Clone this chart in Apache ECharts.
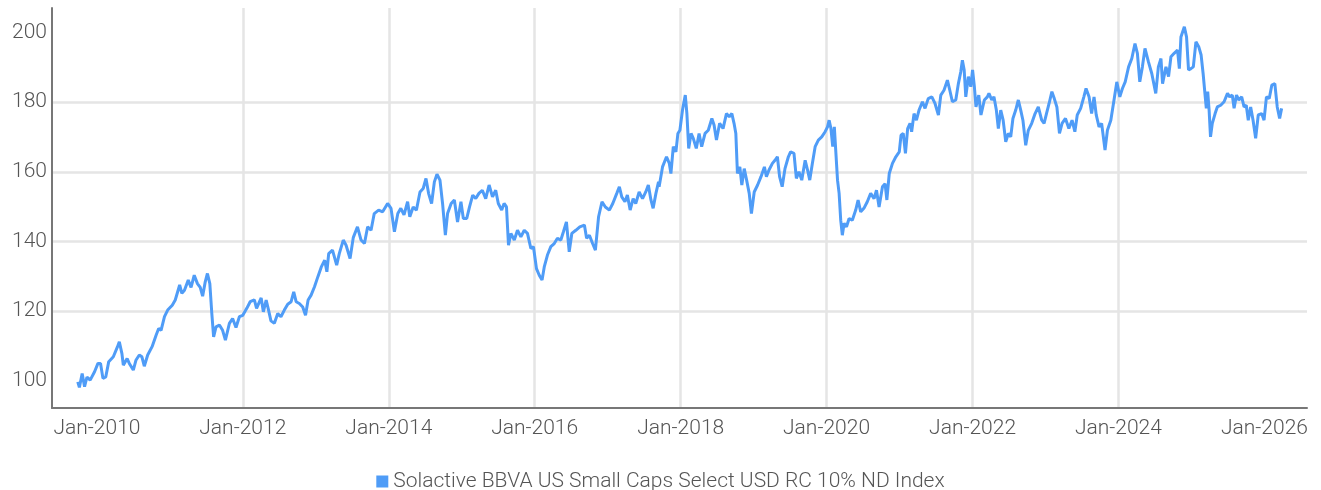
<!DOCTYPE html>
<html>
<head>
<meta charset="utf-8">
<script src="https://cdn.jsdelivr.net/npm/echarts@6/dist/echarts.min.js"></script>
<style>
  html, body { margin: 0; padding: 0; background: #fff; }
  #chart { width: 1321px; height: 490px; }
</style>
</head>
<body>
<div id="chart"></div>
<script>
const seriesName = 'Solactive BBVA US Small Caps Select USD RC 10% ND Index';

const dates = [
  '2009-09-27','2009-10-05','2009-10-19','2009-10-31','2009-11-12','2009-11-28','2009-12-20',
  '2010-01-06','2010-01-19','2010-01-31','2010-02-14','2010-03-01','2010-03-24','2010-04-14','2010-04-23',
  '2010-05-06','2010-05-13','2010-06-01','2010-06-12','2010-07-02','2010-07-15','2010-08-01','2010-08-14',
  '2010-08-26','2010-09-12','2010-10-04','2010-10-24','2010-11-06','2010-11-18','2010-12-05','2010-12-21',
  '2011-01-13','2011-01-28','2011-02-05','2011-02-19','2011-03-02','2011-03-15','2011-04-03','2011-04-17',
  '2011-05-03','2011-05-19','2011-06-02','2011-06-14','2011-06-27','2011-07-08','2011-07-20','2011-07-30',
  '2011-08-08','2011-08-20','2011-09-06','2011-09-22','2011-10-06','2011-10-26','2011-11-11','2011-11-28',
  '2011-12-15','2012-01-01','2012-01-21','2012-02-07','2012-02-28','2012-03-10','2012-04-02','2012-04-13',
  '2012-04-27','2012-05-09','2012-05-21','2012-06-07','2012-06-24','2012-07-10','2012-07-27','2012-08-13',
  '2012-08-30','2012-09-12','2012-09-24','2012-10-10','2012-10-27','2012-11-10','2012-11-23','2012-12-08',
  '2012-12-25','2013-01-11','2013-01-28','2013-02-14','2013-02-25','2013-03-06','2013-03-25','2013-04-15',
  '2013-04-28','2013-05-18','2013-06-01','2013-06-21','2013-07-07','2013-07-28','2013-08-15','2013-09-01',
  '2013-09-17','2013-10-04','2013-10-20','2013-11-11','2013-12-01','2013-12-26','2014-01-12','2014-01-29',
  '2014-02-15','2014-03-02','2014-03-18','2014-04-05','2014-04-16','2014-05-03','2014-05-19','2014-06-06',
  '2014-06-22','2014-07-06','2014-07-19','2014-08-03','2014-08-17','2014-08-30','2014-09-14','2014-09-27',
  '2014-10-11','2014-10-22','2014-11-09','2014-11-25','2014-12-11','2014-12-28','2015-01-09','2015-01-26',
  '2015-02-09','2015-02-25','2015-03-12','2015-03-28','2015-04-14','2015-05-01','2015-05-18','2015-06-04',
  '2015-06-20','2015-07-03','2015-07-20','2015-08-01','2015-08-13','2015-08-23','2015-09-04','2015-09-21',
  '2015-10-07','2015-10-24','2015-11-10','2015-11-26','2015-12-13','2015-12-26','2016-01-10','2016-01-24',
  '2016-02-07','2016-02-18','2016-03-05','2016-03-22','2016-04-08','2016-04-24','2016-05-11','2016-05-24',
  '2016-06-08','2016-06-22','2016-07-05','2016-07-25','2016-08-14','2016-09-06','2016-09-17','2016-10-01',
  '2016-10-17','2016-10-31','2016-11-16','2016-12-03','2016-12-20','2017-01-09','2017-01-26','2017-02-15',
  '2017-02-28','2017-03-12','2017-03-28','2017-04-09','2017-04-23','2017-05-08','2017-05-21','2017-06-07',
  '2017-06-24','2017-07-10','2017-07-23','2017-08-05','2017-08-16','2017-08-30','2017-09-12','2017-09-15',
  '2017-10-02','2017-10-22','2017-11-05','2017-11-13','2017-11-25','2017-12-08','2017-12-18','2017-12-28',
  '2018-01-10','2018-01-24','2018-02-01','2018-02-10','2018-02-22','2018-03-05','2018-03-20','2018-04-03',
  '2018-04-16','2018-05-03','2018-05-19','2018-06-06','2018-06-17','2018-06-29','2018-07-15','2018-08-01',
  '2018-08-18','2018-09-01','2018-09-14','2018-09-25','2018-10-04','2018-10-12','2018-10-24','2018-11-03',
  '2018-11-15','2018-11-27','2018-12-10','2018-12-21','2019-01-04','2019-01-21','2019-02-07','2019-02-24',
  '2019-03-06','2019-03-19','2019-04-05','2019-04-18','2019-04-30','2019-05-11','2019-05-24','2019-06-07',
  '2019-06-24','2019-07-05','2019-07-22','2019-08-03','2019-08-16','2019-08-30','2019-09-16','2019-09-28',
  '2019-10-09','2019-10-22','2019-11-05','2019-11-21','2019-12-08','2019-12-25','2020-01-06','2020-01-14',
  '2020-01-23','2020-02-01','2020-02-09','2020-02-17','2020-02-25','2020-03-04','2020-03-12','2020-03-20',
  '2020-03-29','2020-04-10','2020-04-23','2020-05-09','2020-05-26','2020-06-07','2020-06-20','2020-07-06',
  '2020-07-23','2020-08-09','2020-08-26','2020-09-07','2020-09-20','2020-10-07','2020-10-20','2020-10-29',
  '2020-11-10','2020-11-26','2020-12-13','2020-12-30','2021-01-08','2021-01-19','2021-01-30','2021-02-10',
  '2021-02-22','2021-03-02','2021-03-14','2021-03-26','2021-04-08','2021-04-25','2021-05-08','2021-05-24',
  '2021-06-11','2021-06-27','2021-07-14','2021-07-26','2021-08-11','2021-08-28','2021-09-09','2021-09-22',
  '2021-10-09','2021-10-22','2021-11-03','2021-11-11','2021-11-20','2021-11-28','2021-12-11','2021-12-23',
  '2022-01-01','2022-01-10','2022-01-18','2022-02-01','2022-02-12','2022-03-01','2022-03-16','2022-03-24',
  '2022-04-07','2022-04-18','2022-04-30','2022-05-10','2022-05-22','2022-06-03','2022-06-16','2022-06-29',
  '2022-07-11','2022-07-22','2022-08-05','2022-08-18','2022-08-30','2022-09-10','2022-09-24','2022-10-07',
  '2022-10-24','2022-11-10','2022-11-26','2022-12-13','2022-12-25','2023-01-06','2023-01-19','2023-02-02',
  '2023-02-14','2023-02-27','2023-03-12','2023-03-25','2023-04-11','2023-04-28','2023-05-14','2023-05-28',
  '2023-06-09','2023-06-26','2023-07-12','2023-07-23','2023-08-07','2023-08-20','2023-09-01','2023-09-12',
  '2023-09-26','2023-10-09','2023-10-26','2023-11-07','2023-11-24','2023-12-10','2023-12-24','2024-01-08',
  '2024-01-21','2024-02-04','2024-02-21','2024-03-08','2024-03-24','2024-04-05','2024-04-17','2024-04-30',
  '2024-05-13','2024-05-30','2024-06-16','2024-07-06','2024-07-19','2024-08-01','2024-08-09','2024-08-26',
  '2024-09-08','2024-09-20','2024-10-06','2024-10-23','2024-11-01','2024-11-09','2024-11-26','2024-12-07',
  '2024-12-17','2024-12-29','2025-01-10','2025-01-23','2025-02-06','2025-02-18','2025-02-28','2025-03-09',
  '2025-03-16','2025-03-23','2025-03-30','2025-04-06','2025-04-15','2025-04-29','2025-05-10','2025-05-27',
  '2025-06-13','2025-06-30','2025-07-11','2025-07-24','2025-08-02','2025-08-14','2025-08-26','2025-09-09',
  '2025-09-21','2025-10-02','2025-10-12','2025-10-24','2025-11-05','2025-11-18','2025-12-01','2025-12-18',
  '2025-12-30','2026-01-11','2026-01-25','2026-02-07','2026-02-22','2026-03-06','2026-03-18','2026-03-28'
];

const values = [
  99.7, 98.1, 102.1, 98.3, 101.1, 100.2, 102.6,
  105.0, 105.0, 100.7, 101.1, 105.5, 106.9, 109.8, 111.2,
  107.8, 104.5, 106.4, 105.0, 103.1, 105.9, 107.4, 106.9,
  104.2, 107.4, 109.8, 113.1, 115.0, 114.5, 118.4, 120.3,
  121.7, 123.2, 123.6, 127.5, 125.1, 126.0, 128.9, 126.8,
  130.3, 127.9, 126.8, 124.3, 128.4, 130.8, 127.9, 119.3,
  112.6, 115.5, 116.0, 114.5, 111.7, 116.5, 117.9, 115.3,
  118.4, 118.8, 120.8, 122.7, 123.2, 120.8, 123.8, 119.8,
  123.2, 120.3, 117.2, 116.5, 119.3, 118.4, 120.3, 122.0,
  122.7, 125.5, 122.7, 122.2, 121.2, 118.8, 123.2, 124.6,
  127.0, 129.9, 132.7, 134.6, 131.3, 136.5, 137.5, 133.2,
  136.5, 140.4, 138.9, 135.1, 141.1, 144.2, 140.4, 139.4,
  144.2, 143.2, 148.0, 149.0, 148.5, 150.9, 149.5, 142.8,
  148.0, 149.5, 147.6, 151.4, 147.1, 149.9, 149.0, 154.2,
  155.2, 158.1, 153.8, 150.9, 157.1, 159.3, 157.6, 150.9,
  141.8, 148.0, 150.9, 151.9, 145.6, 151.4, 146.6, 146.6,
  149.9, 153.3, 152.3, 153.8, 154.7, 152.3, 156.2, 152.8,
  154.7, 150.9, 149.0, 150.9, 149.9, 138.9, 142.3, 140.4,
  143.2, 141.3, 143.2, 142.3, 138.0, 138.5, 132.2, 130.3,
  128.9, 132.7, 136.1, 138.5, 139.4, 140.9, 140.4, 142.8,
  145.6, 137.0, 142.3, 143.2, 144.2, 144.7, 140.9, 141.8,
  139.4, 137.5, 147.1, 151.4, 149.9, 149.0, 150.9, 153.8,
  155.7, 152.8, 151.4, 153.3, 149.0, 152.3, 150.9, 154.2,
  152.3, 154.2, 156.2, 151.9, 149.5, 153.8, 157.1, 155.7,
  161.4, 164.3, 162.4, 159.5, 167.2, 165.7, 171.0, 171.9,
  177.7, 182.0, 176.7, 166.7, 171.0, 169.6, 166.7, 171.0,
  167.2, 171.0, 171.9, 175.3, 173.4, 169.1, 173.9, 172.4,
  176.7, 175.8, 176.7, 173.9, 171.0, 159.5, 161.4, 156.2,
  160.9, 157.6, 153.8, 148.0, 154.2, 156.2, 158.6, 161.4,
  158.6, 160.5, 162.4, 163.3, 164.3, 158.6, 155.7, 160.9,
  164.3, 165.7, 165.3, 158.1, 160.0, 157.6, 163.3, 160.5,
  157.6, 162.4, 167.2, 169.1, 170.0, 171.5, 172.9, 174.8,
  172.4, 167.2, 172.9, 172.4, 157.6, 153.8, 146.1, 141.8,
  145.2, 144.2, 146.6, 146.1, 149.0, 151.9, 148.5, 149.5,
  151.4, 153.8, 152.3, 154.7, 149.9, 155.7, 156.6, 151.9,
  159.5, 162.4, 164.3, 165.7, 170.5, 171.0, 165.3, 172.4,
  173.9, 171.5, 176.7, 174.8, 177.7, 180.1, 178.2, 181.0,
  181.5, 179.6, 176.3, 182.0, 183.4, 186.3, 183.4, 180.1,
  180.6, 185.3, 188.7, 192.0, 189.2, 181.5, 187.3, 184.4,
  189.2, 184.4, 178.6, 182.0, 176.3, 180.6, 181.5, 182.5,
  180.6, 181.5, 177.7, 172.4, 177.7, 174.8, 168.6, 171.0,
  170.0, 175.3, 177.7, 180.6, 177.7, 174.8, 167.6, 171.9,
  173.9, 176.7, 178.6, 174.8, 173.9, 176.7, 179.6, 183.0,
  181.0, 178.6, 171.0, 173.9, 175.3, 172.4, 174.8, 171.5,
  176.3, 178.2, 181.5, 183.9, 181.5, 176.7, 181.5, 176.3,
  172.9, 173.9, 166.2, 171.9, 174.8, 180.6, 185.8, 181.5,
  183.9, 185.8, 190.1, 192.5, 196.8, 194.0, 185.8, 190.1,
  195.4, 191.6, 188.2, 182.5, 190.1, 192.5, 185.3, 190.1,
  187.3, 193.0, 194.0, 194.9, 189.6, 198.7, 201.6, 198.7,
  189.2, 189.6, 190.1, 197.3, 195.9, 193.5, 188.2, 182.5,
  178.2, 183.0, 177.7, 170.0, 173.9, 176.7, 178.6, 179.1,
  180.1, 182.5, 181.5, 182.0, 178.2, 182.0, 180.6, 181.5,
  178.6, 179.1, 174.8, 178.6, 174.8, 169.6, 176.3, 176.7,
  174.8, 181.5, 181.0, 184.9, 185.3, 178.6, 175.3, 178.2
];

const yTicks = [100, 120, 140, 160, 180, 200];
const xTicks = ['2010-01-01', '2012-01-01', '2014-01-01', '2016-01-01',
  '2018-01-01', '2020-01-01', '2022-01-01', '2024-01-01', '2026-01-01'];
const xMin = '2009-05-21';
const xMax = '2026-08-02';

const labelFont = "Roboto, 'Liberation Sans', sans-serif";
const toTime = d => Date.parse(d + 'T00:00:00Z');

const chart = echarts.init(document.getElementById('chart'), null, { renderer: 'canvas' });

chart.setOption({
  animation: false,
  backgroundColor: '#fff',
  grid: {
    left: 52,
    right: 14,
    top: 8,
    bottom: 82,
    containLabel: false,
    outerBoundsMode: 'none'
  },
  legend: {
    data: [seriesName],
    top: 466,
    left: 'center',
    icon: 'rect',
    itemWidth: 12,
    itemHeight: 12,
    itemGap: 10,
    textStyle: { color: '#555', fontSize: 21, fontFamily: labelFont, fontWeight: 300 }
  },
  xAxis: {
    type: 'value',
    min: toTime(xMin),
    max: toTime(xMax),
    axisLine: { show: true, onZero: false, lineStyle: { color: '#777', width: 2 } },
    axisTick: { show: false, customValues: xTicks.map(toTime) },
    axisLabel: {
      customValues: xTicks.map(toTime),
      color: '#555',
      fontSize: 21,
      fontFamily: labelFont,
      fontWeight: 300,
      margin: 10,
      formatter: value => 'Jan-' + new Date(value).getUTCFullYear()
    },
    splitLine: { show: true, showMinLine: false, showMaxLine: false, lineStyle: { color: '#e5e5e5', width: 2.5 } }
  },
  yAxis: {
    type: 'value',
    min: 92.2,
    max: 207,
    axisLine: { show: true, lineStyle: { color: '#777', width: 2 } },
    axisTick: { show: false, customValues: yTicks },
    axisLabel: {
      customValues: yTicks,
      color: '#555',
      fontSize: 21,
      fontFamily: labelFont,
      fontWeight: 300,
      margin: 5
    },
    splitLine: { show: true, showMinLine: false, showMaxLine: false, lineStyle: { color: '#e5e5e5', width: 2.5 } }
  },
  series: [
    {
      name: seriesName,
      type: 'line',
      data: dates.map((d, i) => [toTime(d), values[i]]),
      showSymbol: false,
      symbol: 'none',
      color: '#4f9cf7',
      lineStyle: { color: '#4f9cf7', width: 3 },
      z: 3
    }
  ]
});
</script>
</body>
</html>
